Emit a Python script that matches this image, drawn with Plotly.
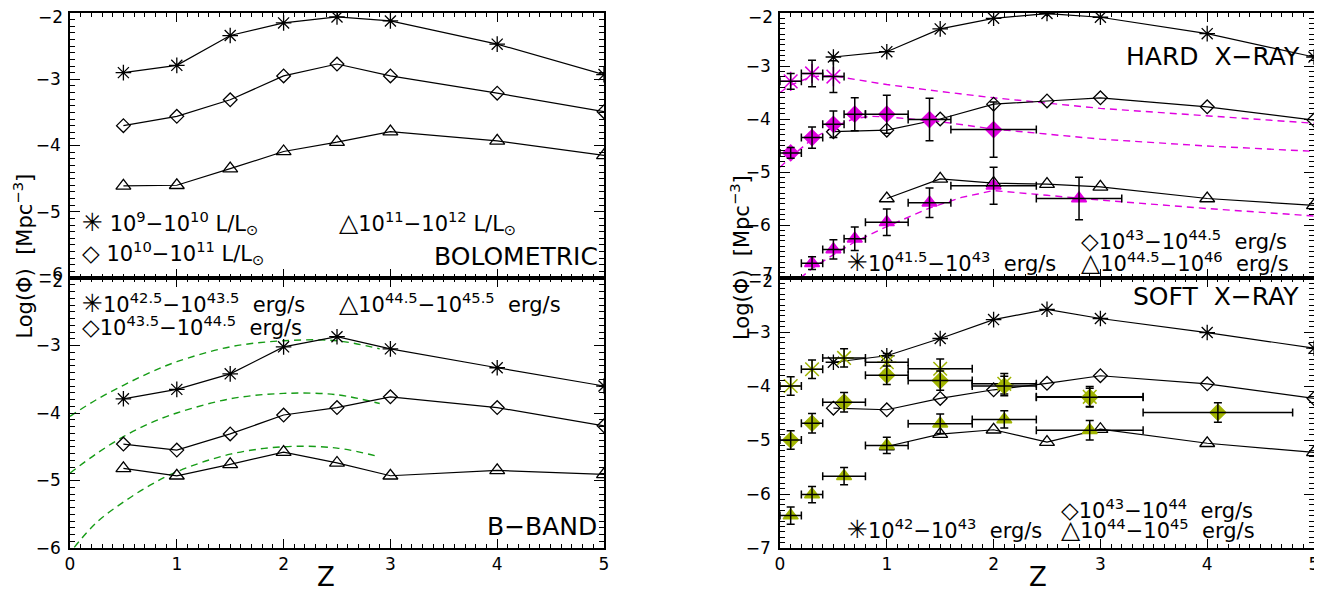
import plotly.graph_objects as go

# ---------------- data ----------------
z_model = [0.5, 1, 1.5, 2, 2.5, 3, 4, 5]
z_model_hi = [1, 1.5, 2, 2.5, 3, 4, 5]

# Bolometric
bol_low = [-2.90, -2.79, -2.34, -2.15, -2.06, -2.12, -2.47, -2.93]
bol_mid = [-3.70, -3.56, -3.31, -2.95, -2.77, -2.95, -3.21, -3.49]
bol_high = [-4.61, -4.60, -4.35, -4.09, -3.95, -3.79, -3.93, -4.15]

# B-band
bb_low = [-3.79, -3.65, -3.42, -3.02, -2.87, -3.05, -3.33, -3.60]
bb_mid = [-4.46, -4.55, -4.31, -4.03, -3.92, -3.76, -3.92, -4.19]
bb_high = [-4.82, -4.93, -4.76, -4.58, -4.74, -4.93, -4.85, -4.91]

# B-band green dashed reference curves
bb_curve_z = [0.0, 0.25, 0.5, 0.75, 1.0, 1.5, 2.0, 2.5, 2.9]
bb_curve1 = [-4.05, -3.80, -3.59, -3.40, -3.24, -3.02, -2.93, -2.93, -3.05]
bb_curve2 = [-4.89, -4.60, -4.35, -4.15, -4.00, -3.79, -3.71, -3.73, -3.86]
bb_curve3_z = [0.04, 0.25, 0.5, 0.75, 1.0, 1.5, 2.0, 2.5, 2.9]
bb_curve3 = [-5.99, -5.62, -5.32, -5.07, -4.87, -4.61, -4.50, -4.52, -4.65]

# Hard X-ray model
hard_low = [-2.83, -2.73, -2.30, -2.10, -2.01, -2.08, -2.39, -2.83]
hard_mid = [-4.24, -4.21, -4.00, -3.72, -3.66, -3.60, -3.77, -4.02]
hard_high = [-5.50, -5.13, -5.21, -5.23, -5.28, -5.50, -5.63]

# Hard X-ray observed (magenta)
hx_star = [0.1, 0.3, 0.5]
hy_star = [-3.29, -3.14, -3.20]
hey_star = [0.15, 0.25, 0.30]
hex_star = [0.1, 0.1, 0.1]

hx_dia = [0.1, 0.3, 0.5, 0.7, 1.0, 1.4, 2.0]
hy_dia = [-4.64, -4.35, -4.10, -3.91, -3.91, -4.01, -4.20]
hey_dia = [0.10, 0.20, 0.25, 0.31, 0.36, 0.40, 0.52]
hex_dia = [0.1, 0.1, 0.1, 0.1, 0.2, 0.2, 0.4]

hx_tri = [0.3, 0.5, 0.7, 1.0, 1.4, 2.0, 2.8]
hy_tri = [-6.72, -6.46, -6.26, -5.95, -5.58, -5.26, -5.50]
hey_tri = [0.12, 0.18, 0.22, 0.25, 0.28, 0.35, 0.40]
hex_tri = [0.1, 0.1, 0.1, 0.2, 0.2, 0.4, 0.4]

# Hard X-ray magenta dashed fits
hfit_a_z = [0.0, 0.1, 0.3, 0.5, 0.6, 1.0, 1.5, 2.0, 2.5, 3.0, 3.5, 4.0, 4.5, 5.0]
hfit_a = [-3.50, -3.36, -3.20, -3.18, -3.22, -3.35, -3.48, -3.60, -3.70, -3.80, -3.87, -3.94, -4.01, -4.08]
hfit_b_z = [0.0, 0.1, 0.3, 0.5, 0.7, 0.85, 1.0, 1.5, 2.0, 2.5, 3.0, 4.0, 5.0]
hfit_b = [-4.91, -4.72, -4.38, -4.15, -3.99, -3.95, -3.96, -4.05, -4.19, -4.29, -4.38, -4.51, -4.61]
hfit_c_z = [0.19, 0.3, 0.5, 0.7, 1.0, 1.4, 1.7, 2.0, 2.5, 3.0, 4.0, 5.0]
hfit_c = [-7.00, -6.82, -6.56, -6.32, -6.03, -5.68, -5.48, -5.35, -5.44, -5.53, -5.69, -5.83]

# Soft X-ray model
soft_low = [-3.56, -3.44, -3.12, -2.77, -2.58, -2.75, -3.01, -3.30]
soft_mid = [-4.41, -4.44, -4.23, -4.07, -3.95, -3.81, -3.96, -4.23]
soft_high = [-5.12, -4.89, -4.81, -5.04, -4.80, -5.06, -5.23]

# Soft X-ray observed (olive)
sx_star = [0.1, 0.3, 0.6, 1.0, 1.5, 2.1, 2.9]
sy_star = [-4.00, -3.69, -3.48, -3.56, -3.68, -3.96, -4.20]
sey_star = [0.17, 0.17, 0.17, 0.16, 0.18, 0.19, 0.19]
sex_star = [0.1, 0.1, 0.2, 0.2, 0.3, 0.3, 0.5]

sx_dia = [0.1, 0.3, 0.6, 1.0, 1.5, 2.1, 2.9, 4.1]
sy_dia = [-5.00, -4.69, -4.30, -3.80, -3.90, -4.00, -4.21, -4.49]
sey_dia = [0.17, 0.18, 0.18, 0.17, 0.18, 0.18, 0.17, 0.18]
sex_dia = [0.1, 0.1, 0.2, 0.2, 0.3, 0.3, 0.5, 0.7]

sx_tri = [0.1, 0.3, 0.6, 1.0, 1.5, 2.1, 2.9]
sy_tri = [-6.40, -6.01, -5.67, -5.10, -4.70, -4.62, -4.82]
sey_tri = [0.16, 0.15, 0.16, 0.15, 0.18, 0.16, 0.18]
sex_tri = [0.1, 0.1, 0.2, 0.2, 0.3, 0.3, 0.5]

x_ticks = [0, 1, 2, 3, 4, 5]

# ---------------- styling ----------------
FONT = "DejaVu Sans"
MAGENTA = "#e000e0"
OLIVE = "#a0b400"
GREEN = "#169c16"

fig = go.Figure()


def dashed(x, y, color, xa, ya, shape="linear"):
    fig.add_trace(go.Scatter(x=x, y=y, mode="lines",
                             line=dict(color=color, width=1.4, dash="7px,5px", shape=shape),
                             xaxis=xa, yaxis=ya, showlegend=False, hoverinfo="skip"))


def model(x, y, sym, size, xa, ya):
    fig.add_trace(go.Scatter(x=x, y=y, mode="lines+markers",
                             line=dict(color="black", width=1.2),
                             marker=dict(symbol=sym, size=size, color="black",
                                         line=dict(color="black", width=1.3)),
                             xaxis=xa, yaxis=ya, showlegend=False, hoverinfo="skip"))


def obs(x, y, ex, ey, sym, size, color, xa, ya):
    fig.add_trace(go.Scatter(x=x, y=y, mode="markers",
                             marker=dict(symbol=sym, size=size, color=color,
                                         line=dict(color=color, width=1.5)),
                             xaxis=xa, yaxis=ya, showlegend=False, hoverinfo="skip"))
    fig.add_trace(go.Scatter(x=x, y=y, mode="markers",
                             marker=dict(size=1, color="rgba(0,0,0,0)"),
                             error_x=dict(type="data", array=ex, color="black", thickness=1.5, width=4),
                             error_y=dict(type="data", array=ey, color="black", thickness=1.5, width=4),
                             xaxis=xa, yaxis=ya, showlegend=False, hoverinfo="skip"))


S_AST, S_DIA, S_TRI = 13, 10.5, 13

# top-left: bolometric
model(z_model, bol_low, "asterisk-open", S_AST, "x", "y")
model(z_model, bol_mid, "diamond-open", S_DIA, "x", "y")
model(z_model, bol_high, "triangle-up-open", S_TRI, "x", "y")

# bottom-left: B band
dashed(bb_curve_z, bb_curve1, GREEN, "x3", "y3", "spline")
dashed(bb_curve_z, bb_curve2, GREEN, "x3", "y3", "spline")
dashed(bb_curve3_z, bb_curve3, GREEN, "x3", "y3", "spline")
model(z_model, bb_low, "asterisk-open", S_AST, "x3", "y3")
model(z_model, bb_mid, "diamond-open", S_DIA, "x3", "y3")
model(z_model, bb_high, "triangle-up-open", S_TRI, "x3", "y3")

# top-right: hard X-ray
dashed(hfit_a_z, hfit_a, MAGENTA, "x2", "y2")
dashed(hfit_b_z, hfit_b, MAGENTA, "x2", "y2")
dashed(hfit_c_z, hfit_c, MAGENTA, "x2", "y2")
model(z_model, hard_low, "asterisk-open", S_AST, "x2", "y2")
model(z_model, hard_mid, "diamond-open", S_DIA, "x2", "y2")
model(z_model_hi, hard_high, "triangle-up-open", S_TRI, "x2", "y2")
obs(hx_star, hy_star, hex_star, hey_star, "asterisk-open", 16, MAGENTA, "x2", "y2")
obs(hx_dia, hy_dia, hex_dia, hey_dia, "diamond", 12, MAGENTA, "x2", "y2")
obs(hx_tri, hy_tri, hex_tri, hey_tri, "triangle-up", 13, MAGENTA, "x2", "y2")

# bottom-right: soft X-ray
model(z_model, soft_low, "asterisk-open", S_AST, "x4", "y4")
model(z_model, soft_mid, "diamond-open", S_DIA, "x4", "y4")
model(z_model_hi, soft_high, "triangle-up-open", S_TRI, "x4", "y4")
obs(sx_star, sy_star, sex_star, sey_star, "asterisk-open", 16, OLIVE, "x4", "y4")
obs(sx_dia, sy_dia, sex_dia, sey_dia, "diamond", 12, OLIVE, "x4", "y4")
obs(sx_tri, sy_tri, sex_tri, sey_tri, "triangle-up", 13, OLIVE, "x4", "y4")

# ---------------- axes ----------------
# the page body has an 8px margin, so the figure is shifted by (8, 8)
W, H = 1314, 589
ML, MR, MT, MB = 62, 8, 5, 49
PW, PH = W - ML - MR, H - MT - MB
LEFT_DOM = [0.0, 534 / PW]
RIGHT_DOM = [710 / PW, 1.0]
YSPLIT = 270 / PH
TOP_DOM = [YSPLIT, 1.0]
BOT_DOM = [0.0, YSPLIT]

tickfont = dict(family=FONT, size=17, color="black")


def xstyle(dom, anchor, labels):
    return dict(domain=dom, anchor=anchor, range=[0, 5], tickvals=x_ticks,
                showticklabels=labels, tickfont=tickfont, automargin=False,
                ticklabeloverflow="allow",
                showline=True, linecolor="black", linewidth=1.5, mirror="allticks",
                ticks="inside", ticklen=9, tickwidth=1.3, tickcolor="black",
                minor=dict(ticks="inside", ticklen=4.5, dtick=0.1, tick0=0,
                           tickcolor="black", tickwidth=1),
                showgrid=False, zeroline=False, fixedrange=True)


def ystyle(dom, anchor, rng, vals):
    return dict(domain=dom, anchor=anchor, range=rng, tickvals=vals,
                tickfont=tickfont, ticklabelstandoff=4, automargin=False,
                ticklabeloverflow="allow",
                showline=True, linecolor="black", linewidth=1.5, mirror="allticks",
                ticks="inside", ticklen=10, tickwidth=1.3, tickcolor="black",
                minor=dict(ticks="inside", ticklen=5, dtick=0.1, tick0=0,
                           tickcolor="black", tickwidth=1),
                showgrid=False, zeroline=False, fixedrange=True)


fig.update_layout(
    width=W, height=H,
    margin=dict(l=ML, r=MR, t=MT, b=MB, autoexpand=False),
    paper_bgcolor="white", plot_bgcolor="white",
    showlegend=False,
    font=dict(family=FONT, color="black"),
    xaxis=xstyle(LEFT_DOM, "y", False),
    yaxis=ystyle(TOP_DOM, "x", [-6, -2], [-5, -4, -3]),
    xaxis2=xstyle(RIGHT_DOM, "y2", False),
    yaxis2=ystyle(TOP_DOM, "x2", [-7, -2], [-6, -5, -4, -3]),
    xaxis3=xstyle(LEFT_DOM, "y3", True),
    yaxis3=ystyle(BOT_DOM, "x3", [-6, -2], [-6, -5, -4, -3]),
    xaxis4=xstyle(RIGHT_DOM, "y4", True),
    yaxis4=ystyle(BOT_DOM, "x4", [-7, -2], [-7, -6, -5, -4, -3]),
)

ann = []


def txt(text, xref, x, yref, y, size=21, xanchor="left", yanchor="middle", **kw):
    d = dict(text=text, xref=xref, x=x, yref=yref, y=y, showarrow=False,
             xanchor=xanchor, yanchor=yanchor,
             font=dict(family=FONT, size=size, color="black"))
    d.update(kw)
    ann.append(d)


# top / boundary tick labels (offset like the original)
txt("−2", "x domain", 0, "y", -2, size=17, xanchor="right", xshift=-5, yshift=-4)
txt("−2", "x2 domain", 0, "y2", -2, size=17, xanchor="right", xshift=-5, yshift=-4)
txt("−6", "x domain", 0, "y", -6, size=17, xanchor="right", xshift=-5, yshift=4)
txt("−2", "x3 domain", 0, "y3", -2, size=17, xanchor="right", xshift=-5, yshift=-3)
txt("−7", "x2 domain", 0, "y2", -7, size=17, xanchor="right", xshift=-5, yshift=4)
txt("−2", "x4 domain", 0, "y4", -2, size=17, xanchor="right", xshift=-5, yshift=-3)

STAR = '<span style="font-size:25px">✳</span>'
DIA = '<span style="font-size:23px">◇</span>'
TRI = '<span style="font-size:25px">△</span>'
SP = "\u00a0"

# top-left legend / label
txt(f"{STAR} 10<sup>9</sup>−10<sup>10</sup> L/L<sub>⊙</sub>", "x domain", 0.018, "y domain", 0.2075)
txt(f"{TRI}10<sup>11</sup>−10<sup>12</sup> L/L<sub>⊙</sub>", "x domain", 0.50, "y domain", 0.2075)
txt(f"{DIA} 10<sup>10</sup>−10<sup>11</sup> L/L<sub>⊙</sub>", "x domain", 0.018, "y domain", 0.094)
txt("BOLOMETRIC", "x domain", 0.993, "y domain", 0.083, size=25, xanchor="right")

# bottom-left legend / label
txt(f"{STAR}10<sup>42.5</sup>−10<sup>43.5</sup>{SP}{SP}erg/s", "x3 domain", 0.018, "y3 domain", 0.904)
txt(f"{TRI}10<sup>44.5</sup>−10<sup>45.5</sup>{SP}{SP}erg/s", "x3 domain", 0.50, "y3 domain", 0.904)
txt(f"{DIA}10<sup>43.5</sup>−10<sup>44.5</sup>{SP}{SP}erg/s", "x3 domain", 0.018, "y3 domain", 0.822)
txt("B−BAND", "x3 domain", 0.99, "y3 domain", 0.078, size=25, xanchor="right")

# top-right legend / label
txt(f"HARD{SP}{SP}X−RAY", "x2 domain", 0.978, "y2 domain", 0.834, size=25, xanchor="right")
txt(f"{DIA}10<sup>43</sup>−10<sup>44.5</sup>{SP}{SP}erg/s", "x2 domain", 0.56, "y2 domain", 0.143)
txt(f"{STAR}10<sup>41.5</sup>−10<sup>43</sup>{SP}{SP}erg/s", "x2 domain", 0.122, "y2 domain", 0.060)
txt(f"{TRI}10<sup>44.5</sup>−10<sup>46</sup>{SP}{SP}erg/s", "x2 domain", 0.56, "y2 domain", 0.060)

# bottom-right legend / label
txt(f"SOFT{SP}{SP}X−RAY", "x4 domain", 0.975, "y4 domain", 0.93, size=25, xanchor="right")
txt(f"{DIA}10<sup>43</sup>−10<sup>44</sup>{SP}{SP}erg/s", "x4 domain", 0.522, "y4 domain", 0.144)
txt(f"{STAR}10<sup>42</sup>−10<sup>43</sup>{SP}{SP}erg/s", "x4 domain", 0.122, "y4 domain", 0.067)
txt(f"{TRI}10<sup>44</sup>−10<sup>45</sup>{SP}{SP}erg/s", "x4 domain", 0.522, "y4 domain", 0.067)

# axis titles
txt("Z", "x3 domain", 0.48, "paper", -0.054, size=26, xanchor="center")
txt("Z", "x4 domain", 0.483, "paper", -0.054, size=26, xanchor="center")
ylab = f"Log(Φ){SP}{SP}[Mpc<sup>−3</sup>]"
txt(ylab, "paper", -0.038, "paper", 0.546, size=21, xanchor="center", textangle=-90)
txt(ylab, "paper", 0.5386, "paper", 0.542, size=21, xanchor="center", textangle=-90)

fig.update_layout(annotations=ann)

fig.write_html("out.html")
